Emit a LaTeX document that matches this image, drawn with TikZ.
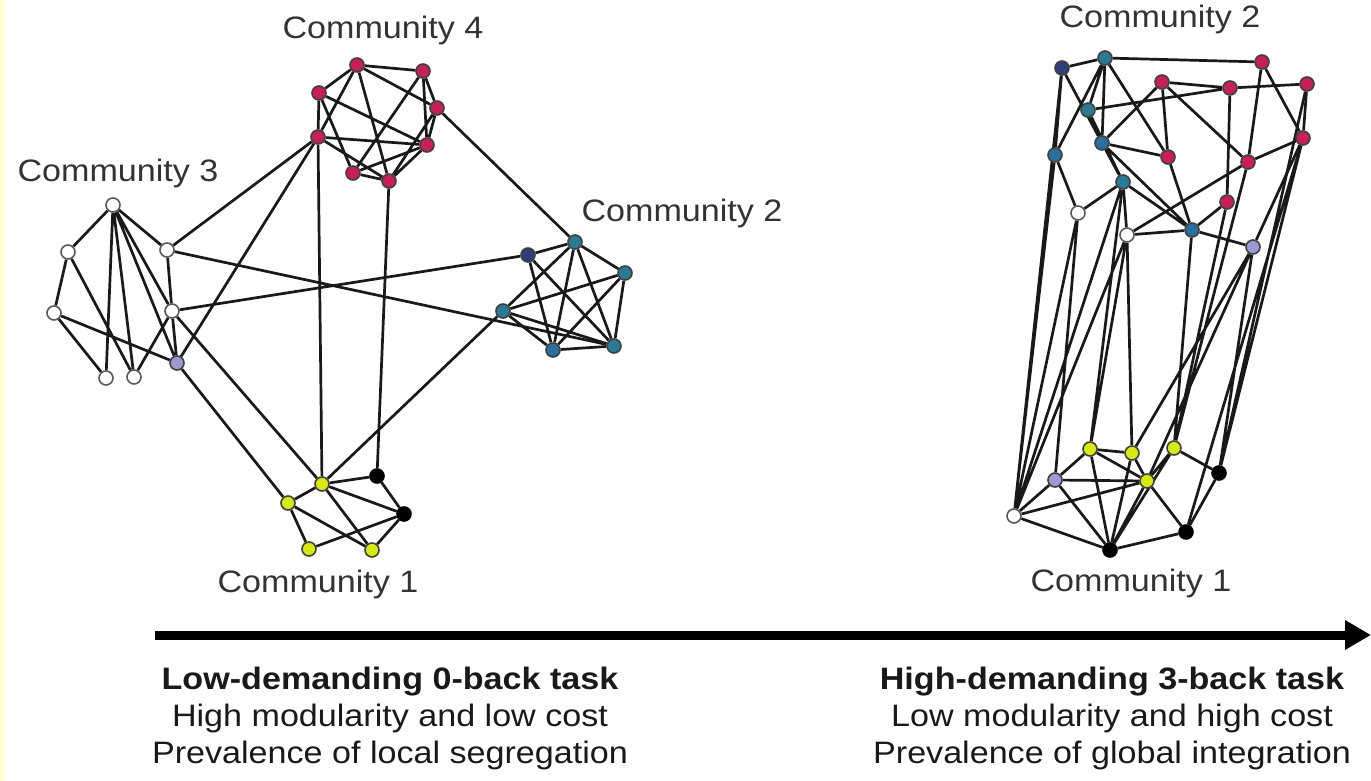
\documentclass[tikz,border=0pt]{standalone}
\usepackage{fontspec}
\setmainfont{Liberation Sans}[FakeStretch=1.1]
\usepackage{tikz}
\usetikzlibrary{positioning,arrows.meta,backgrounds}
\definecolor{CommPink}{HTML}{C81E5A}
\definecolor{CommTeal}{HTML}{2B7A95}
\definecolor{CommNavy}{HTML}{2E3F78}
\definecolor{CommBlue}{HTML}{2A6FA0}
\definecolor{CommYellow}{HTML}{D6EA12}
\definecolor{CommLav}{HTML}{9C9AD0}
\definecolor{EdgeYellow}{HTML}{FFFCCF}

\begin{document}
\begin{tikzpicture}[
  x=0.5pt,y=-0.5pt,
  every node/.style={font=\fontsize{15.5}{18.5}\selectfont},
  nd/.style={circle,draw=black!75,line width=0.8pt,inner sep=0pt,minimum size=7pt},
  pk/.style={nd,fill=CommPink},
  tl/.style={nd,fill=CommTeal},
  nv/.style={nd,fill=CommNavy},
  bl/.style={nd,fill=CommBlue},
  yl/.style={nd,fill=CommYellow},
  wt/.style={nd,fill=white,draw=black!65},
  lv/.style={nd,fill=CommLav},
  bk/.style={nd,fill=black,draw=black},
  lnk/.style={line width=1.35pt,draw=black!90},
  lbl/.style={text=black!80},
  task/.style={text=black!90,align=center},
  axis/.style={line width=4.5pt,-{Triangle[length=13pt,width=14pt]}}
]
  \useasboundingbox (0,0) rectangle (1371,781);
  \fill[EdgeYellow] (0,0) rectangle (4,781);

  % low-demanding network: community 4
  \node[pk] (a1) at (357,65) {};
  \node[pk] (a2) at (423,71) {};
  \node[pk] (a3) at (437,108) {};
  \node[pk] (a4) at (319,93) {};
  \node[pk] (a5) at (318,137) {};
  \node[pk] (a6) at (427,145) {};
  \node[pk] (a7) at (353,173) {};
  \node[pk] (a8) at (389,181) {};
  % community 3
  \node[wt] (b1) at (113,205) {};
  \node[wt] (b2) at (68,252) {};
  \node[wt] (b3) at (167,250) {};
  \node[wt] (b4) at (54,313) {};
  \node[wt] (b5) at (172,311) {};
  \node[wt] (b6) at (106,378) {};
  \node[wt] (b7) at (134,377) {};
  \node[lv] (b8) at (177,363) {};
  % community 2
  \node[tl] (c1) at (575,242) {};
  \node[nv] (c2) at (528,255) {};
  \node[tl] (c3) at (625,273) {};
  \node[tl] (c4) at (503,311) {};
  \node[bl] (c5) at (553,350) {};
  \node[tl] (c6) at (614,346) {};
  % community 1
  \node[yl] (d1) at (322,484) {};
  \node[yl] (d2) at (288,503) {};
  \node[yl] (d3) at (309,549) {};
  \node[yl] (d4) at (372,550) {};
  \node[bk] (d5) at (377,476) {};
  \node[bk] (d6) at (404,514) {};

  \node[lbl] (c4lbl) at (383,30) {Community 4};
  \node[lbl] (c3lbl) at (118,173) {Community 3};
  \node[lbl] (c2lbl) at (682,213) {Community 2};
  \node[lbl] (c1lbl) at (318,584) {Community 1};

  % high-demanding network
  \node[nv] (p1) at (1062,68) {};
  \node[tl] (p2) at (1105,58) {};
  \node[pk] (p3) at (1262,62) {};
  \node[pk] (p4) at (1162,82) {};
  \node[pk] (p5) at (1230,88) {};
  \node[pk] (p6) at (1307,84) {};
  \node[tl] (p7) at (1088,110) {};
  \node[bl] (p8) at (1102,143) {};
  \node[bl] (p9) at (1055,155) {};
  \node[pk] (p10) at (1168,157) {};
  \node[pk] (p11) at (1248,162) {};
  \node[pk] (p12) at (1303,138) {};
  \node[tl] (p13) at (1123,182) {};
  \node[pk] (p14) at (1227,202) {};
  \node[wt] (p15) at (1078,213) {};
  \node[wt] (p16) at (1127,235) {};
  \node[bl] (p17) at (1192,230) {};
  \node[lv] (p18) at (1253,247) {};
  \node[yl] (q1) at (1090,449) {};
  \node[yl] (q2) at (1132,453) {};
  \node[yl] (q3) at (1174,448) {};
  \node[yl] (q4) at (1147,481) {};
  \node[lv] (q5) at (1055,480) {};
  \node[bk] (q6) at (1219,473) {};
  \node[wt] (q7) at (1014,516) {};
  \node[bk] (q8) at (1186,532) {};
  \node[bk] (q9) at (1110,550) {};

  \node[lbl] (r2lbl) at (1160,19) {Community 2};
  \node[lbl] (r1lbl) at (1131,583) {Community 1};

  \begin{scope}[on background layer]
    \draw[lnk] (a1)--(a2) (a1)--(a3) (a1)--(a4) (a1)--(a5) (a1)--(a8) (a2)--(a3)
      (a2)--(a6) (a2)--(a7) (a4)--(a5) (a4)--(a6) (a4)--(a7) (a5)--(a6) (a5)--(a8)
      (a3)--(a6) (a3)--(a8) (a6)--(a7) (a7)--(a8) (a6)--(a8);
    \draw[lnk] (b1)--(b2) (b1)--(b3) (b1)--(b6) (b1)--(b7) (b1)--(b5) (b1)--(b8)
      (b2)--(b4) (b2)--(b7) (b4)--(b6) (b4)--(b8) (b3)--(b5) (b5)--(b7) (b5)--(b8);
    \draw[lnk] (c1)--(c2) (c1)--(c3) (c1)--(c4) (c1)--(c5) (c1)--(c6) (c2)--(c6)
      (c2)--(c5) (c3)--(c4) (c3)--(c5) (c3)--(c6) (c4)--(c5) (c4)--(c6) (c5)--(c6);
    \draw[lnk] (d1)--(d2) (d1)--(d5) (d1)--(d6) (d1)--(d4) (d2)--(d3) (d2)--(d4)
      (d3)--(d6) (d4)--(d6) (d5)--(d6);
    \draw[lnk] (a5)--(b3) (a5)--(b8) (a5)--(d1) (a8)--(d5) (a3)--(c1) (b3)--(c6)
      (b5)--(c2) (d1)--(c4) (b8)--(d2) (b5)--(d1);
    % high-demanding links
    \draw[lnk] (p1)--(p2) (p2)--(p3) (p1)--(p9) (p1)--(p8) (p2)--(p9) (p2)--(p7)
      (p2)--(p10) (p2)--(p8) (p7)--(p5) (p4)--(p5) (p5)--(p6) (p4)--(p8) (p4)--(p10)
      (p4)--(p11) (p3)--(p12) (p3)--(p11) (p6)--(p12) (p5)--(p14) (p8)--(p10)
      (p8)--(p13) (p8)--(p17) (p9)--(p15) (p15)--(p13) (p10)--(p17) (p12)--(p11)
      (p11)--(p16) (p13)--(p16) (p16)--(p17) (p17)--(p18) (p14)--(p17) (p13)--(p17)
      (p7)--(p13) (p12)--(p18);
    \draw[lnk] (q7)--(p9) (q7)--(p1) (q7)--(p15) (q7)--(p16) (q7)--(p13) (q5)--(p15)
      (q1)--(p13) (q1)--(p16) (q2)--(p16) (q3)--(p17) (q2)--(p18) (q4)--(p18)
      (q6)--(p12) (q6)--(p18) (q8)--(p12) (q3)--(p14) (q3)--(p11) (q6)--(p6);
    \draw[lnk] (q5)--(q1) (q1)--(q4) (q1)--(q9) (q2)--(q4) (q3)--(q4) (q3)--(q6)
      (q4)--(q9) (q4)--(q8) (q6)--(q8) (q8)--(q9) (q7)--(q9) (q7)--(q5) (q7)--(q4)
      (q5)--(q9) (q1)--(q2) (q3)--(q9) (q2)--(q9) (q5)--(q4);
  \end{scope}

  % task axis
  \coordinate (ax0) at (155,635);
  \coordinate (ax1) at (1371,635);
  \draw[axis] (ax0) -- (ax1);

  \node[task] (lowtask) at (390,718) {\textbf{Low-demanding 0-back task}\\
    High modularity and low cost\\ Prevalence of local segregation};
  \node[task] (hightask) at (1112,718) {\textbf{High-demanding 3-back task}\\
    Low modularity and high cost\\ Prevalence of global integration};
\end{tikzpicture}
\end{document}
